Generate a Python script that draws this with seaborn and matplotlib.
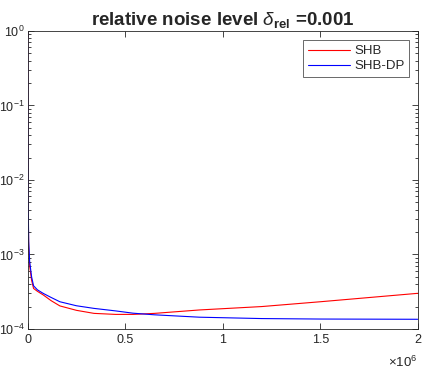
import numpy as np
import pandas as pd
import matplotlib
matplotlib.use("Agg")
import matplotlib.pyplot as plt
import matplotlib.ticker as mticker
import seaborn as sns

# =========================
# DADOS
# =========================

iteracoes = [0, 2e3, 5e3, 1e4, 2e4, 3e4, 5e4, 8e4, 1.2e5, 1.65e5, 2.5e5, 3.4e5,
             4.5e5, 5.4e5, 6.5e5, 8.8e5, 1.2e6, 1.5e6, 2e6]
erro_shb = [1, 5e-3, 1.3e-3, 7e-4, 4.5e-4, 3.5e-4, 3.2e-4, 2.86e-4, 2.4e-4, 2.04e-4,
            1.78e-4, 1.62e-4, 1.57e-4, 1.57e-4, 1.62e-4, 1.8e-4, 2.0e-4, 2.32e-4, 3.01e-4]
erro_shb_dp = [1, 6e-3, 1.5e-3, 8e-4, 5e-4, 3.8e-4, 3.35e-4, 3.0e-4, 2.65e-4, 2.32e-4,
               2.05e-4, 1.89e-4, 1.75e-4, 1.63e-4, 1.55e-4, 1.44e-4, 1.38e-4, 1.36e-4, 1.35e-4]
metodos = ["SHB", "SHB-DP"]
cores = {"SHB": "#ff0000", "SHB-DP": "#0000ff"}
x_ticks = [0, 0.5e6, 1e6, 1.5e6, 2e6]

df = pd.concat([
    pd.DataFrame({"iter": iteracoes, "erro": erro_shb, "metodo": "SHB"}),
    pd.DataFrame({"iter": iteracoes, "erro": erro_shb_dp, "metodo": "SHB-DP"}),
])

# =========================
# ESTILO
# =========================

sns.set_theme(style="ticks")
plt.rcParams["font.family"] = ["Liberation Sans", "DejaVu Sans"]
plt.rcParams["mathtext.fontset"] = "custom"
plt.rcParams["mathtext.rm"] = "Liberation Sans"
plt.rcParams["mathtext.it"] = "Liberation Sans:italic"
plt.rcParams["mathtext.bf"] = "Liberation Sans:bold"
cinza = "#262626"

fig = plt.figure(figsize=(4.23, 3.68), dpi=100)
ax = fig.add_axes([0.0655, 0.106, 0.922, 0.81])

sns.lineplot(data=df, x="iter", y="erro", hue="metodo", hue_order=metodos,
             palette=cores, estimator=None, linewidth=0.8, ax=ax)

ax.set_yscale("log")
ax.set_xlim(0, 2e6)
ax.set_ylim(1e-4, 1)
ax.set_xticks(x_ticks)
ax.xaxis.set_major_formatter(mticker.FuncFormatter(lambda v, p: f"{v / 1e6:g}"))
ax.yaxis.set_major_locator(mticker.LogLocator(base=10, numticks=10))
ax.yaxis.set_major_formatter(
    mticker.FuncFormatter(lambda v, p: r"$10^{%d}$" % round(np.log10(v))))
ax.yaxis.set_minor_locator(mticker.LogLocator(base=10, subs=np.arange(2, 10), numticks=10))
ax.yaxis.set_minor_formatter(mticker.NullFormatter())

ax.tick_params(which="both", direction="in", top=True, right=True,
               colors=cinza, labelsize=9, width=0.6)
ax.tick_params(which="major", length=4)
ax.tick_params(which="minor", length=2)
ax.tick_params(axis="y", pad=2)
for s in ax.spines.values():
    s.set_color(cinza)
    s.set_linewidth(0.6)

ax.set_xlabel("")
ax.set_ylabel("")
# fator de escala do eixo x (estilo MATLAB)
ax.text(1.0, -0.085, r"$\times10^{6}$", transform=ax.transAxes, ha="right",
        va="top", fontsize=9.5, color=cinza)

ax.set_title(r"relative noise level $\delta_{\mathbf{rel}}$ =0.001",
             fontsize=13.5, fontweight="bold", pad=4)

leg = ax.legend(loc="upper right", fontsize=9.5, frameon=True, fancybox=False,
                edgecolor=cinza, handlelength=3.2, borderpad=0.35,
                labelspacing=0.2, handletextpad=0.3, bbox_to_anchor=(0.995, 0.99))
leg.get_frame().set_linewidth(0.6)

fig.savefig("out.png", dpi=100)
